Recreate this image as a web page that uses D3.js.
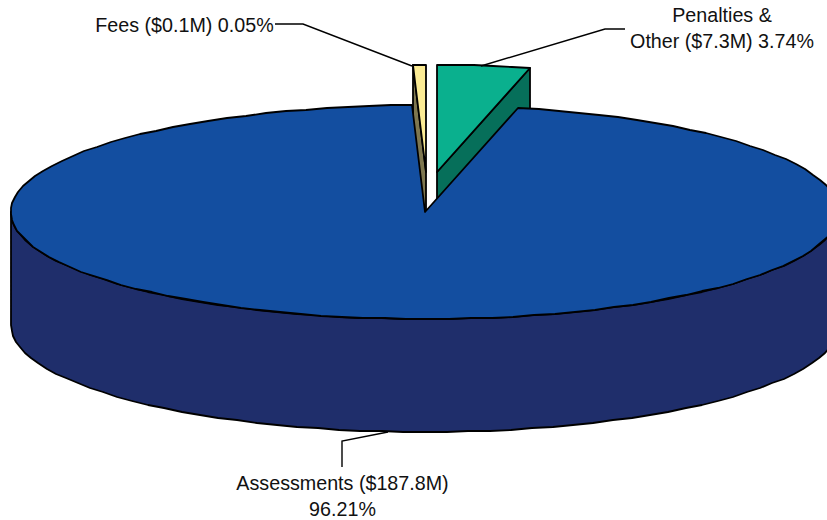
<!DOCTYPE html>
<html><head><meta charset="utf-8">
<script src="https://cdn.jsdelivr.net/npm/d3@7/dist/d3.min.js"></script>
<style>html,body{margin:0;padding:0;background:#fff}svg{display:block}text{font-family:"Liberation Sans",Arial,sans-serif;font-size:19.7px;fill:#111}</style>
</head><body><svg id="c" width="827" height="520"></svg>
<script>
const categories = ["Penalties & Other", "Assessments", "Fees"];
const amounts = [7.3, 187.8, 0.1];
const printedShares = [3.74, 96.21, 0.05];
const drawnShares = [3.6, 95.9, 0.5];
const topColors = ["#0AB08E", "#134EA0", "#FBEB94"];
const sideColors = ["#066F5A", "#1F2E6B", "#7E7750"];
const explodeX = [12, 0, 1];
const explodeY = [-40, 0, -40];
const labelLines = [
  [["Penalties &", 722, 22], ["Other ($7.3M) 3.74%", 722, 48]],
  [["Assessments ($187.8M)", 342.5, 490], ["96.21%", 342.5, 516]],
  [["Fees ($0.1M) 0.05%", 184.5, 32]]
];
const leaders = [
  [[625, 29], [605, 29], [481, 66]],
  [[342, 467], [342, 441], [388, 432]],
  [[275, 24], [303, 24], [412, 66]]
];

const svg = d3.select("#c");
const cx = 425, cy = 212, rx = 414, ry = 107, depth = 113, stepDeg = 3;
const arcs = d3.pie().sort(null).value(d => d)(drawnShares);
const P = (a, i, d = 0) => [Math.round(cx + explodeX[i] + rx * Math.sin(a)), Math.round(cy + explodeY[i] - ry * Math.cos(a) + d)];
const C = (i, d = 0) => [cx + explodeX[i], cy + explodeY[i] + d];
const rim = (a0, a1, i, d = 0) => {
  const n = Math.max(1, Math.ceil((a1 - a0) / (stepDeg * Math.PI / 180)));
  return d3.range(n + 1).map(k => P(a0 + (a1 - a0) * k / n, i, d));
};
const line = d3.line();
const poly = (pts, fill) => svg.append("path").attr("d", line(pts) + "Z")
  .attr("fill", fill).attr("stroke", "#000").attr("stroke-width", 1.8).attr("stroke-linejoin", "round");

// exploded wedges first: their cut faces, then their tops
[0, 2].forEach(i => {
  const a = arcs[i];
  const faceAngle = i === 0 ? a.endAngle : a.startAngle;
  poly([C(i), P(faceAngle, i), P(faceAngle, i, depth), C(i, depth)], sideColors[i]);
  poly([C(i), ...rim(a.startAngle, a.endAngle, i)], topColors[i]);
});

// large slice: front wall then top
const b = arcs[1];
const front = rim(Math.PI / 2, Math.PI * 1.5, 1);
poly([...front, ...rim(Math.PI / 2, Math.PI * 1.5, 1, depth).reverse()], sideColors[1]);
poly([C(1), ...rim(b.startAngle, b.endAngle, 1)], topColors[1]);

leaders.forEach(l => svg.append("path").attr("d", line(l)).attr("fill", "none").attr("stroke", "#000").attr("stroke-width", 1.4));
labelLines.forEach(ls => ls.forEach(([t, x, y]) => svg.append("text").attr("x", x).attr("y", y).attr("text-anchor", "middle").text(t)));
</script></body></html>
